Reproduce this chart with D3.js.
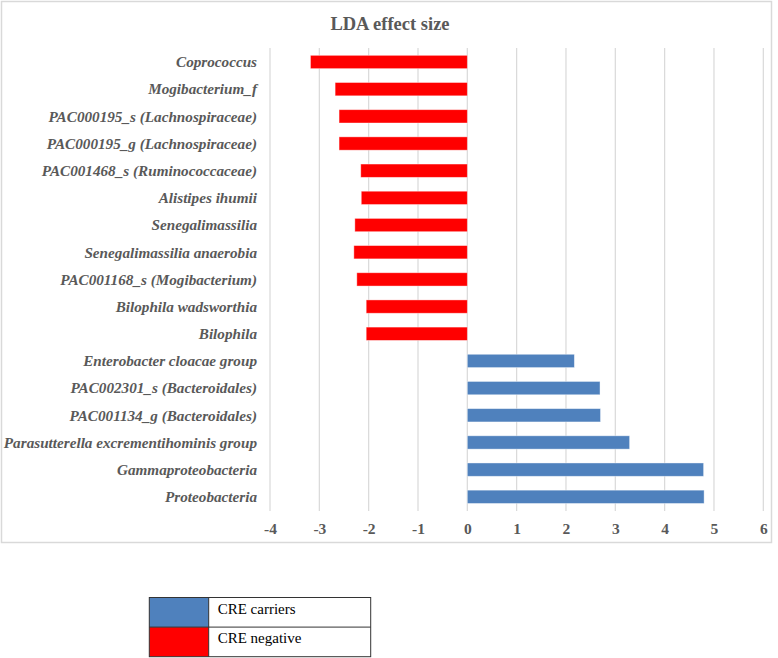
<!DOCTYPE html>
<html><head><meta charset="utf-8">
<script src="https://cdn.jsdelivr.net/npm/d3@7"></script>
<style>body{margin:0;background:#fff;}svg{display:block;}</style>
</head><body>
<script>
const categories = ["Coprococcus","Mogibacterium_f","PAC000195_s (Lachnospiraceae)","PAC000195_g (Lachnospiraceae)","PAC001468_s (Ruminococcaceae)","Alistipes ihumii","Senegalimassilia","Senegalimassilia anaerobia","PAC001168_s (Mogibacterium)","Bilophila wadsworthia","Bilophila","Enterobacter cloacae group","PAC002301_s (Bacteroidales)","PAC001134_g (Bacteroidales)","Parasutterella excrementihominis group","Gammaproteobacteria","Proteobacteria"];
const ldaValues = [-3.18,-2.68,-2.60,-2.60,-2.16,-2.15,-2.28,-2.30,-2.24,-2.05,-2.05,2.17,2.69,2.70,3.29,4.79,4.80];
const xTicks = [-4,-3,-2,-1,0,1,2,3,4,5,6];
const legendLabels = ["CRE carriers","CRE negative"];
const legendColors = ["#4F81BD","#FF0000"];

const FONT = "'Liberation Serif', 'Times New Roman', serif";
const W = 778, H = 658;
const svg = d3.select("body").append("svg").attr("width", W).attr("height", H);

// chart frame
svg.append("rect").attr("x",1.5).attr("y",1.5).attr("width",770).attr("height",541)
  .attr("fill","#fff").attr("stroke","#D9D9D9").attr("stroke-width",1.5);

svg.append("text").attr("x",390).attr("y",30).attr("text-anchor","middle")
  .style("font-family",FONT).style("font-weight","bold")
  .style("font-size","18.5px").attr("fill","#595959").text("LDA effect size");

const x = d3.scaleLinear().domain([-4,6]).range([270,763.3]);
const y = d3.scaleBand().domain(categories).range([48.4,510.4]).paddingInner(0.51).paddingOuter(0.255);

// gridlines
svg.append("g").selectAll("line").data(xTicks).join("line")
  .attr("x1",d=>x(d)).attr("x2",d=>x(d)).attr("y1",48).attr("y2",511)
  .attr("stroke","#D9D9D9").attr("stroke-width",1.2);

// bars
svg.append("g").selectAll("rect").data(categories).join("rect")
  .attr("x",(d,i)=>x(Math.min(0,ldaValues[i])))
  .attr("width",(d,i)=>Math.abs(x(ldaValues[i])-x(0)))
  .attr("y",d=>y(d)).attr("height",y.bandwidth())
  .attr("fill",(d,i)=>ldaValues[i]<0?legendColors[1]:legendColors[0])
  .attr("stroke","#fff").attr("stroke-opacity",0.5).attr("stroke-width",0.8);

// category labels
svg.append("g").selectAll("text").data(categories).join("text")
  .attr("x",257).attr("y",d=>y(d)+y.bandwidth()/2).attr("dy","0.35em")
  .attr("text-anchor","end")
  .style("font-family",FONT)
  .style("font-weight","bold").style("font-style","italic").style("font-size","15.2px")
  .attr("fill","#595959").text(d=>d);

// x axis labels
const xAxis = d3.axisBottom(x).tickValues(xTicks).tickSize(0).tickPadding(0).tickFormat(d=>String(d));
const gx = svg.append("g").attr("transform","translate(0,523)").call(xAxis);
gx.select(".domain").remove();
gx.attr("font-family",null).attr("font-size",null);
gx.selectAll("text").style("font-family",FONT)
  .style("font-weight","bold").style("font-size","15.5px").attr("fill","#595959").attr("dy","0.71em");

// legend table
const lx = 149.3, ly = 597.5, lw = 221.4, rh = 29.6, cw = 59.4;
const lg = svg.append("g");
legendLabels.forEach((lab,i)=>{
  lg.append("rect").attr("x",lx).attr("y",ly+i*rh).attr("width",cw).attr("height",rh)
    .attr("fill",legendColors[i]);
  lg.append("text").attr("x",lx+cw+9).attr("y",ly+i*rh+rh/2-4).attr("dy","0.35em")
    .style("font-family",FONT).style("font-size","15px")
    .attr("fill","#000").text(lab);
});
lg.append("rect").attr("x",lx).attr("y",ly).attr("width",lw).attr("height",rh*2)
  .attr("fill","none").attr("stroke","#333").attr("stroke-width",1);
lg.append("line").attr("x1",lx).attr("x2",lx+lw).attr("y1",ly+rh).attr("y2",ly+rh).attr("stroke","#333");
lg.append("line").attr("x1",lx+cw).attr("x2",lx+cw).attr("y1",ly).attr("y2",ly+2*rh).attr("stroke","#333");
</script>
</body></html>
